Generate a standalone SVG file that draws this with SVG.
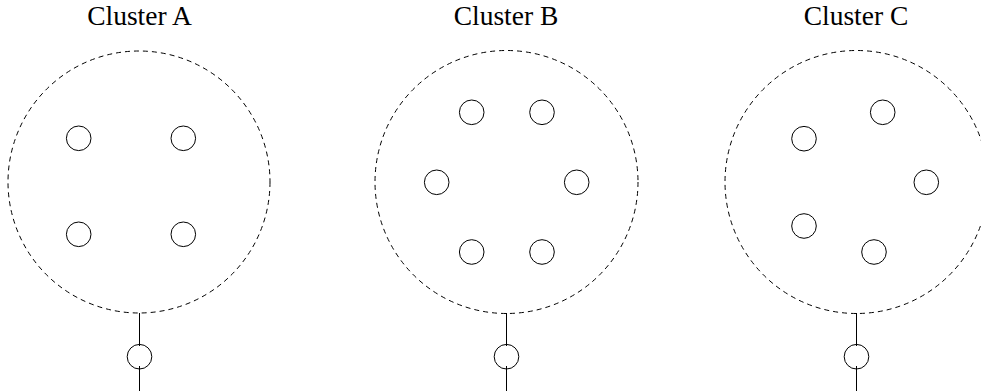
<svg xmlns="http://www.w3.org/2000/svg" width="981" height="391" viewBox="0 0 981 391">
<style>
.cluster{fill:none;stroke:#000;stroke-width:1;stroke-dasharray:5,4}
.node{fill:#fff;stroke:#000;stroke-width:1}
.out{fill:none;stroke:#000;stroke-width:1}
.edge{stroke:#000;stroke-width:1;fill:none}
.label{font-family:"Liberation Serif",serif;font-size:27.5px;fill:#000;text-anchor:middle}
</style>
<rect width="981" height="391" fill="#fff"/>
<g id="connectors">
<line class="edge" x1="139.5" y1="313" x2="139.5" y2="346"/>
<line class="edge" x1="139.5" y1="366" x2="139.5" y2="391"/>
<line class="edge" x1="506.5" y1="313" x2="506.5" y2="346"/>
<line class="edge" x1="506.5" y1="366" x2="506.5" y2="391"/>
<line class="edge" x1="856.5" y1="313" x2="856.5" y2="346"/>
<line class="edge" x1="856.5" y1="366" x2="856.5" y2="391"/>
</g>
<g id="clusterA">
<text class="label" x="139.5" y="25">Cluster A</text>
<circle class="cluster" cx="139" cy="182" r="131"/>
</g>
<g id="clusterB">
<text class="label" x="506" y="25">Cluster B</text>
<circle class="cluster" cx="506.5" cy="182" r="131.5"/>
</g>
<g id="clusterC">
<text class="label" x="856" y="25">Cluster C</text>
<circle class="cluster" cx="856.5" cy="182" r="131.5"/>
</g>
<g id="a1"><circle class="node" cx="78.7" cy="138.3" r="12.3"/></g>
<g id="a2"><circle class="node" cx="183.3" cy="138.3" r="12.3"/></g>
<g id="a3"><circle class="node" cx="78.7" cy="234.3" r="12.3"/></g>
<g id="a4"><circle class="node" cx="183.3" cy="234.3" r="12.3"/></g>
<g id="b1"><circle class="node" cx="471.7" cy="112.3" r="12.3"/></g>
<g id="b2"><circle class="node" cx="542" cy="112.3" r="12.3"/></g>
<g id="b3"><circle class="node" cx="436.7" cy="182.3" r="12.3"/></g>
<g id="b4"><circle class="node" cx="576.7" cy="182.3" r="12.3"/></g>
<g id="b5"><circle class="node" cx="471.7" cy="252" r="12.3"/></g>
<g id="b6"><circle class="node" cx="542" cy="252" r="12.3"/></g>
<g id="c1"><circle class="node" cx="882.7" cy="112.3" r="12.3"/></g>
<g id="c2"><circle class="node" cx="804" cy="138.7" r="12.3"/></g>
<g id="c3"><circle class="node" cx="926.3" cy="182.3" r="12.3"/></g>
<g id="c4"><circle class="node" cx="804" cy="226" r="12.3"/></g>
<g id="c5"><circle class="node" cx="874" cy="252" r="12.3"/></g>
<g id="outA"><circle class="out" cx="139.5" cy="356.7" r="12.3"/></g>
<g id="outB"><circle class="out" cx="506.5" cy="356.7" r="12.3"/></g>
<g id="outC"><circle class="out" cx="856.5" cy="356.7" r="12.3"/></g>
</svg>
